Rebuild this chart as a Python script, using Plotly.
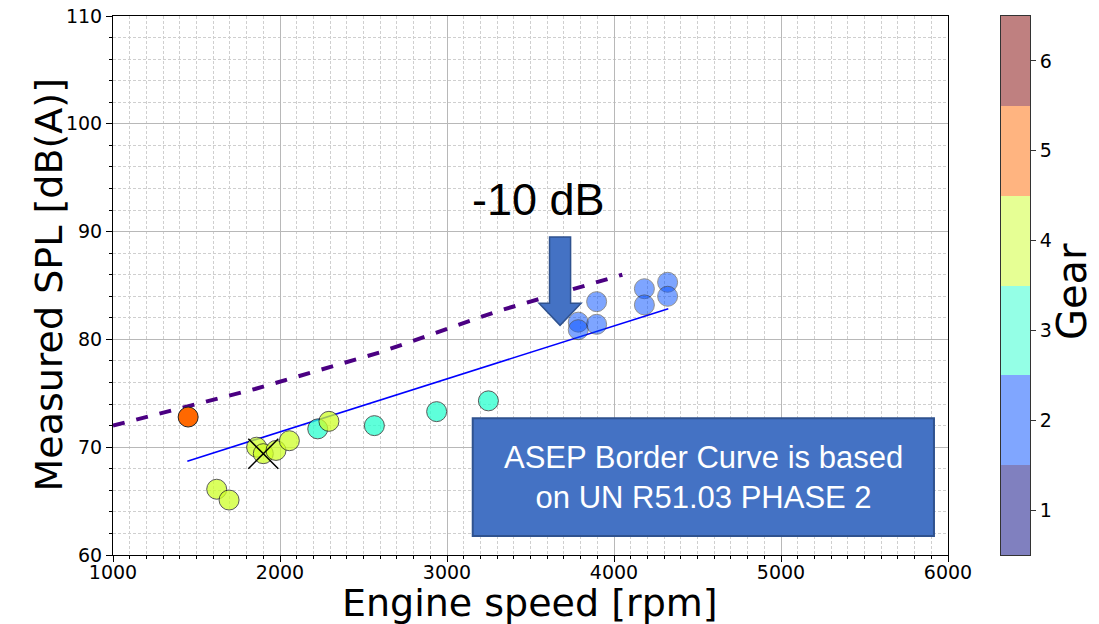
import plotly.graph_objects as go

# ---------------- data ----------------
gear5_rpm = [1450]
gear5_spl = [72.8]
gear4_rpm = [1621, 1695, 1860, 1900, 1976, 2056, 2293]
gear4_spl = [66.1, 65.1, 70.0, 69.4, 69.7, 70.6, 72.4]
gear3_rpm = [2226, 2565, 2938, 3248]
gear3_spl = [71.7, 72.0, 73.3, 74.3]
gear2_rpm = [3786, 3786, 3896, 3896, 4182, 4182, 4321, 4321]
gear2_spl = [81.6, 80.9, 83.5, 81.4, 84.7, 83.2, 85.3, 84.0]

mark_rpm = [1900]
mark_spl = [69.4]

border_rpm = [1000, 1850, 2600, 3300, 4050]
border_spl = [72.0, 75.4, 78.8, 82.6, 86.0]

ref_rpm = [1445, 4325]
ref_spl = [68.7, 82.85]

gears = [1, 2, 3, 4, 5, 6]
gear_colors = ["#8080bf", "#80a6ff", "#94ffe6", "#e6ff94", "#ffb480", "#bf8080"]

TICK_FONT = dict(family="DejaVu Sans", size=19, color="black")

# layout geometry (pixels)
W, H = 1099, 624
ML, MR, MT, MB = 113, 69, 16, 69
inner_w = W - ML - MR
inner_h = H - MT - MB
plot_right = 948
cb_left = 1001

fig = go.Figure()

# border curve (dashed)
fig.add_trace(go.Scatter(x=border_rpm, y=border_spl, mode="lines",
                         line=dict(color="#4b0082", width=4, dash="dash"),
                         showlegend=False, hoverinfo="skip"))
# reference line (-10 dB)
fig.add_trace(go.Scatter(x=ref_rpm, y=ref_spl, mode="lines",
                         line=dict(color="#0000ff", width=1.6),
                         showlegend=False, hoverinfo="skip"))

def pts(x, y, color, op):
    fig.add_trace(go.Scatter(x=x, y=y, mode="markers",
                             marker=dict(size=20, color=color, opacity=op,
                                         line=dict(color="#222222", width=1)),
                             showlegend=False))

pts(gear2_rpm, gear2_spl, "rgb(0,77,255)", 0.5)
pts(gear3_rpm, gear3_spl, "rgb(41,255,206)", 0.75)
pts(gear4_rpm, gear4_spl, "rgb(206,255,41)", 0.75)
pts(gear5_rpm, gear5_spl, "rgb(255,104,0)", 1.0)

fig.add_trace(go.Scatter(x=mark_rpm, y=mark_spl, mode="markers",
                         marker=dict(symbol="x-thin", size=30,
                                     line=dict(color="black", width=1.5)),
                         showlegend=False))

# colorbar as a heatmap on its own axes
n = len(gears)
cs = []
for i, c in enumerate(gear_colors):
    cs.append([i / n, c])
    cs.append([(i + 1) / n, c])
fig.add_trace(go.Heatmap(z=[[g] for g in gears], y=gears, x=[0],
                         colorscale=cs, zmin=0.5, zmax=6.5, showscale=False,
                         xaxis="x2", yaxis="y2", hoverinfo="skip"))

# arrow and text box
arrow = "M 3614,89.5 L 3740,89.5 L 3740,83.35 L 3803,83.35 L 3677,81.3 L 3551,83.35 L 3614,83.35 Z"
fig.add_shape(type="path", path=arrow, xref="x", yref="y",
              fillcolor="#4472c4", line=dict(color="#2f528f", width=1.5), layer="above")
fig.add_shape(type="rect", x0=3154, x1=5916, y0=61.76, y1=72.68, xref="x", yref="y",
              fillcolor="#4472c4", line=dict(color="#2f528f", width=2), layer="above")

fig.add_annotation(x=(3154 + 5916) / 2, y=(61.76 + 72.68) / 2, xref="x", yref="y",
                   text="ASEP Border Curve is based<br>on UN R51.03 PHASE 2",
                   showarrow=False, font=dict(family="Liberation Sans", size=31, color="white"),
                   align="center", xanchor="center", yanchor="middle")
fig.add_annotation(x=3545, y=93.0, xref="x", yref="y", text="-10 dB", showarrow=False,
                   font=dict(family="Liberation Sans", size=45, color="black"),
                   xanchor="center", yanchor="middle")

# axis titles
fig.add_annotation(x=(48 - ML) / inner_w, y=0.5, xref="paper", yref="paper",
                   text="Measured SPL [dB(A)]", textangle=-90, showarrow=False,
                   font=dict(family="DejaVu Sans", size=38, color="black"),
                   xanchor="center", yanchor="middle")
fig.add_annotation(x=(530 - ML) / inner_w, y=(H - MB - 603) / inner_h,
                   xref="paper", yref="paper",
                   text="Engine speed [rpm]", showarrow=False,
                   font=dict(family="DejaVu Sans", size=38, color="black"),
                   xanchor="center", yanchor="middle")
fig.add_annotation(x=(1072 - ML) / inner_w, y=(H - MB - 292) / inner_h,
                   xref="paper", yref="paper",
                   text="Gear", textangle=-90, showarrow=False,
                   font=dict(family="DejaVu Sans", size=40, color="black"),
                   xanchor="center", yanchor="middle")

axis_common = dict(showline=True, linecolor="black", linewidth=1, mirror=True,
                   ticks="outside", ticklen=6, tickcolor="black", tickfont=TICK_FONT,
                   showgrid=True, gridcolor="#b8b8b8", gridwidth=1, zeroline=False,
                   automargin=False)

fig.update_layout(
    xaxis=dict(domain=[0, (plot_right - ML) / inner_w], range=[1000, 6000], dtick=1000, tick0=0,
               ticklabelstandoff=-6,
               minor=dict(dtick=100, showgrid=True, gridcolor="#cfcfcf", griddash="3px,2px",
                          gridwidth=1, ticks="outside", ticklen=3, tickcolor="black"),
               **axis_common),
    yaxis=dict(range=[60, 110], dtick=10, tick0=0,
               minor=dict(dtick=2, showgrid=True, gridcolor="#cfcfcf", griddash="3px,2px",
                          gridwidth=1, ticks="outside", ticklen=3, tickcolor="black"),
               **axis_common),
    xaxis2=dict(domain=[(cb_left - ML) / inner_w, 1], range=[-0.5, 0.5], anchor="y2",
                showticklabels=False, ticks="", showgrid=False, zeroline=False,
                showline=True, linecolor="#333333", mirror=True, automargin=False),
    yaxis2=dict(domain=[0, 1], range=[0.5, 6.5], anchor="x2", side="right",
                tickvals=gears, ticktext=[str(g) for g in gears],
                ticks="outside", ticklen=5, tickcolor="#333333", tickfont=TICK_FONT,
                showgrid=False, zeroline=False, showline=True, linecolor="#333333", mirror=True,
                automargin=False),
    width=W, height=H, margin=dict(l=ML, r=MR, t=MT, b=MB, autoexpand=False),
    plot_bgcolor="white", paper_bgcolor="white", showlegend=False)

fig.write_html("out.html")
